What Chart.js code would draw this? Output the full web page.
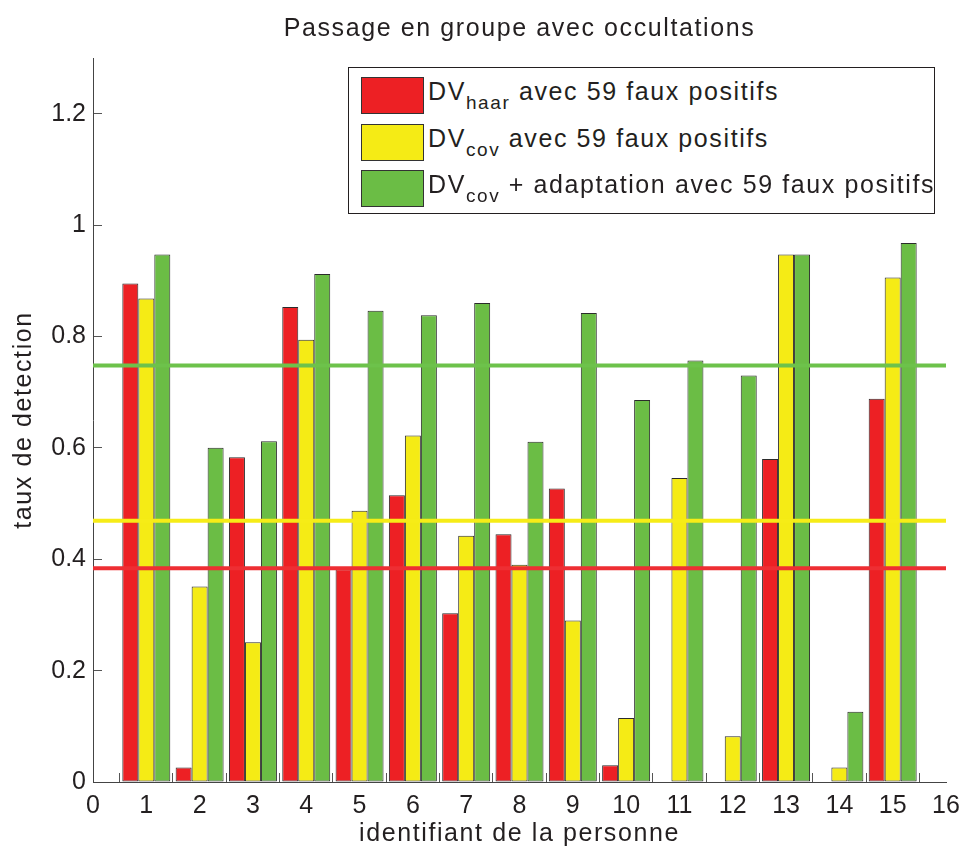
<!DOCTYPE html>
<html>
<head>
<meta charset="utf-8">
<script src="https://cdn.jsdelivr.net/npm/chart.js@4/dist/chart.umd.min.js"></script>
<style>
  html, body { margin: 0; padding: 0; background: #ffffff; }
  #wrap { position: relative; width: 961px; height: 849px; }
  #legend {
    position: absolute; left: 348px; top: 67px; width: 585px; height: 145px;
    border: 1px solid #231f20; background: #ffffff;
    font-family: 'Liberation Sans', Arial, sans-serif; font-size: 25px;
    letter-spacing: 1.6px; color: #231f20;
  }
  .row { position: absolute; left: 0; height: 37px; width: 100%; }
  .sw { position: absolute; left: 12px; top: 0; width: 61px; height: 35px; border: 1px solid #333333; }
  .txt { position: absolute; left: 79px; top: 2px; line-height: 25px; white-space: nowrap; }
  .txt sub { font-size: 19px; vertical-align: -9px; line-height: 0; }
</style>
</head>
<body>
<div id="wrap">
  <canvas id="c" width="961" height="849"></canvas>
  <div id="legend"></div>
</div>
<script>
// ---- data ----
const persons = [1, 2, 3, 4, 5, 6, 7, 8, 9, 10, 11, 12, 13, 14, 15];
const dvHaar = [0.895, 0.026, 0.583, 0.853, 0.382, 0.515, 0.303, 0.445, 0.527, 0.030, 0, 0, 0.580, 0, 0.688];
const dvCov = [0.868, 0.351, 0.251, 0.794, 0.487, 0.622, 0.442, 0.390, 0.290, 0.115, 0.546, 0.082, 0.947, 0.026, 0.906];
const dvCovAdapt = [0.947, 0.600, 0.612, 0.912, 0.846, 0.838, 0.860, 0.611, 0.842, 0.686, 0.757, 0.730, 0.947, 0.126, 0.968];
const meanHaar = 0.384;
const meanCov = 0.469;
const meanCovAdapt = 0.748;
const xRange = [0, 16];
const yTicks = [0, 0.2, 0.4, 0.6, 0.8, 1, 1.2];
const legendMain = ['DV', 'DV', 'DV'];
const legendSub = ['haar', 'cov', 'cov'];
const legendRest = [' avec 59 faux positifs', ' avec 59 faux positifs', ' + adaptation avec 59 faux positifs'];
const titleText = 'Passage en groupe avec occultations';
const xTitle = 'identifiant de la personne';
const yTitle = 'taux de detection';

// ---- styles ----
const RED = '#ED2024', YELLOW = '#F5EB15', GREEN = '#6BBD45';
const LINE_RED = '#EE2E33', LINE_YELLOW = '#F6EC17', LINE_GREEN = '#6DC24B';
const TEXT = '#231f20';
const FONT = "'Liberation Sans', Arial, sans-serif";

// legend (HTML, real text with subscripts)
const legendColors = [RED, YELLOW, GREEN];
const legendEl = document.getElementById('legend');
legendMain.forEach((m, i) => {
  const row = document.createElement('div');
  row.className = 'row';
  row.style.top = (9 + 46.5 * i) + 'px';
  const sw = document.createElement('div');
  sw.className = 'sw';
  sw.style.background = legendColors[i];
  const t = document.createElement('div');
  t.className = 'txt';
  t.innerHTML = m + '<sub>' + legendSub[i] + '</sub>' + legendRest[i];
  row.appendChild(sw); row.appendChild(t);
  legendEl.appendChild(row);
});

const spacingPlugin = {
  id: 'spacing',
  beforeDraw(chart) {
    const ctx = chart.ctx;
    if (!ctx.__patched) {
      const orig = ctx.fillText.bind(ctx);
      ctx.fillText = function (text, x, y, mw) {
        ctx.letterSpacing = /[a-z]/i.test(String(text)) ? '1.6px' : '0px';
        if (mw === undefined) orig(text, x, y); else orig(text, x, y, mw);
        ctx.letterSpacing = '0px';
      };
      ctx.__patched = true;
    }
  }
};

const barBase = { borderColor: '#2b2b2b', borderWidth: 1, borderSkipped: false, categoryPercentage: 0.9, barPercentage: 1.0, order: 1 };
const lineBase = { type: 'line', borderWidth: 4, pointRadius: 0, fill: false, order: 0 };

new Chart(document.getElementById('c'), {
  type: 'bar',
  data: {
    labels: persons,
    datasets: [
      Object.assign({ label: 'DVhaar avec 59 faux positifs', data: dvHaar, backgroundColor: RED }, barBase),
      Object.assign({ label: 'DVcov avec 59 faux positifs', data: dvCov, backgroundColor: YELLOW }, barBase),
      Object.assign({ label: 'DVcov + adaptation avec 59 faux positifs', data: dvCovAdapt, backgroundColor: GREEN }, barBase),
      Object.assign({ label: 'moyenne DVhaar', data: [{ x: xRange[0], y: meanHaar }, { x: xRange[1], y: meanHaar }], borderColor: LINE_RED }, lineBase),
      Object.assign({ label: 'moyenne DVcov', data: [{ x: xRange[0], y: meanCov }, { x: xRange[1], y: meanCov }], borderColor: LINE_YELLOW }, lineBase),
      Object.assign({ label: 'moyenne DVcov adapt', data: [{ x: xRange[0], y: meanCovAdapt }, { x: xRange[1], y: meanCovAdapt }], borderColor: LINE_GREEN }, lineBase)
    ]
  },
  options: {
    responsive: false,
    animation: false,
    devicePixelRatio: 1,
    layout: { padding: { left: 0, right: 0, top: 0, bottom: 0 } },
    plugins: {
      legend: { display: false },
      tooltip: { enabled: false },
      title: {
        display: true, text: titleText, color: TEXT, fullSize: false,
        font: { family: FONT, size: 25, weight: 'normal', lineHeight: 1.2 },
        padding: { top: 14, bottom: 14 }
      }
    },
    scales: {
      x: {
        type: 'linear', min: xRange[0], max: xRange[1], offset: false,
        afterFit(s) { s.height = 67; s.paddingRight = 15; },
        ticks: { stepSize: 1, color: TEXT, font: { family: FONT, size: 25 }, padding: 18, maxRotation: 0, autoSkip: false },
        grid: { drawOnChartArea: false, drawTicks: true, tickLength: -9, color: '#555555', tickWidth: 1 },
        border: { display: true, color: '#444444', width: 1 },
        title: { display: true, text: xTitle, color: TEXT, font: { family: FONT, size: 25, lineHeight: 1.2 }, padding: { top: 5, bottom: 0 } }
      },
      y: {
        min: 0, max: 1.3,
        afterFit(s) { s.width = 93; },
        afterBuildTicks(s) { s.ticks = yTicks.map(v => ({ value: v })); },
        ticks: { color: TEXT, font: { family: FONT, size: 25 }, padding: 16, callback: v => String(Math.round(v * 10) / 10) },
        grid: { drawOnChartArea: false, drawTicks: true, tickLength: -9, color: '#555555', tickWidth: 1 },
        border: { display: true, color: '#444444', width: 1 },
        title: { display: true, text: yTitle, color: TEXT, font: { family: FONT, size: 25, lineHeight: 1.2 }, padding: { top: 9, bottom: 0 } }
      }
    }
  },
  plugins: [spacingPlugin]
});
</script>
</body>
</html>
